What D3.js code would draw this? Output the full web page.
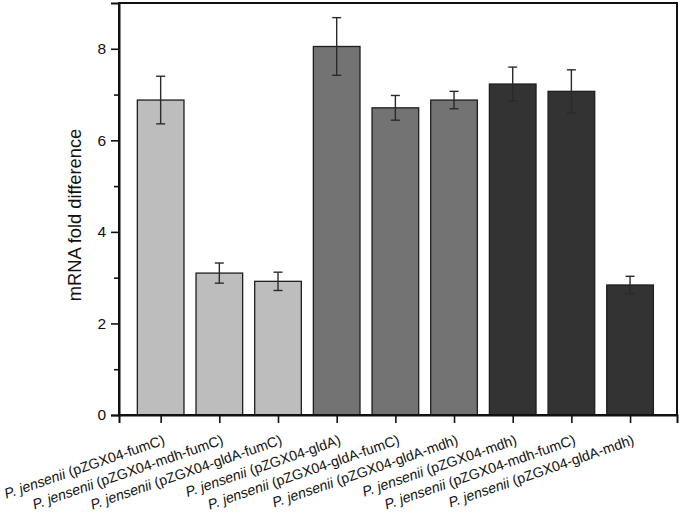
<!DOCTYPE html>
<html>
<head>
<meta charset="utf-8">
<script src="https://cdn.jsdelivr.net/npm/d3@7"></script>
<style>
  body { margin: 0; background: #fff; }
  text { font-family: "Liberation Sans", Arial, sans-serif; }
</style>
</head>
<body>
<div id="chart"></div>
<script>
// data
const strains = ["pZGX04-fumC", "pZGX04-mdh-fumC", "pZGX04-gldA-fumC",
  "pZGX04-gldA", "pZGX04-gldA-fumC", "pZGX04-gldA-mdh",
  "pZGX04-mdh", "pZGX04-mdh-fumC", "pZGX04-gldA-mdh"];
const foldValues = [6.88, 3.10, 2.92, 8.05, 6.71, 6.88, 7.23, 7.07, 2.84];
const foldErrors = [0.52, 0.22, 0.20, 0.63, 0.27, 0.19, 0.37, 0.47, 0.19];
const groupIds = [0, 0, 0, 1, 1, 1, 2, 2, 2];
const groupColors = ["#bdbdbd", "#737373", "#333333"];
const majorTicks = [0, 2, 4, 6, 8];
const minorTicks = [1, 3, 5, 7];

const width = 680;
const height = 515;
const margin = { top: 3, right: 3, bottom: 100, left: 119 };

const svg = d3.select("#chart")
  .append("svg")
  .attr("width", width)
  .attr("height", height);

// positions 1..9
const xScale = d3.scaleLinear()
  .domain([0.29, 9.8])
  .range([margin.left, width - margin.right]);

const yScale = d3.scaleLinear()
  .domain([0, 9])
  .range([height - margin.bottom, margin.top]);

const step = xScale(2) - xScale(1);
const barWidth = step * 0.795;

// bars
svg.append("g")
  .selectAll("rect")
  .data(foldValues)
  .join("rect")
  .attr("x", (d, i) => xScale(i + 1) - barWidth / 2)
  .attr("y", d => yScale(d))
  .attr("width", barWidth)
  .attr("height", d => yScale(0) - yScale(d))
  .attr("fill", (d, i) => groupColors[groupIds[i]])
  .attr("stroke", "#1e1e1e")
  .attr("stroke-width", 1.3);

// error bars
const err = svg.append("g")
  .attr("stroke", "#2a2a2a")
  .attr("stroke-width", 1.4);

foldValues.forEach((v, i) => {
  const cx = xScale(i + 1);
  const hi = yScale(v + foldErrors[i]);
  const lo = yScale(v - foldErrors[i]);
  err.append("line").attr("x1", cx).attr("x2", cx).attr("y1", hi).attr("y2", lo);
  err.append("line").attr("x1", cx - 4.5).attr("x2", cx + 4.5).attr("y1", hi).attr("y2", hi);
  err.append("line").attr("x1", cx - 4.5).attr("x2", cx + 4.5).attr("y1", lo).attr("y2", lo);
});

// frame
svg.append("rect")
  .attr("x", xScale.range()[0])
  .attr("y", yScale.range()[1])
  .attr("width", xScale.range()[1] - xScale.range()[0])
  .attr("height", yScale.range()[0] - yScale.range()[1])
  .attr("fill", "none")
  .attr("stroke", "#111")
  .attr("stroke-width", 2);

// y axis
const yAxis = d3.axisLeft(yScale)
  .tickValues(majorTicks)
  .tickSize(8)
  .tickPadding(5)
  .tickFormat(d3.format("d"));

const yAxisGroup = svg.append("g")
  .attr("transform", `translate(${margin.left}, 0)`)
  .call(yAxis);
yAxisGroup.select(".domain").attr("stroke-width", 2).attr("stroke", "#111");
yAxisGroup.selectAll(".tick line").attr("stroke-width", 1.6).attr("stroke", "#111");
yAxisGroup.selectAll(".tick text")
  .attr("font-size", 15.5)
  .attr("fill", "#111")
  .style("font-family", "'Liberation Sans', Arial, sans-serif");

const yMinor = d3.axisLeft(yScale)
  .tickValues(minorTicks)
  .tickSize(5)
  .tickFormat("");
const yMinorGroup = svg.append("g")
  .attr("transform", `translate(${margin.left}, 0)`)
  .call(yMinor);
yMinorGroup.select(".domain").remove();
yMinorGroup.selectAll(".tick line").attr("stroke-width", 1.6).attr("stroke", "#111");

svg.append("text")
  .attr("transform", `translate(${81}, ${215})rotate(-90)`)
  .attr("text-anchor", "middle")
  .attr("font-size", 18.3)
  .attr("fill", "#111")
  .text("mRNA fold difference");

// x axis
const xAxis = d3.axisBottom(xScale)
  .tickValues(d3.range(1, strains.length + 1))
  .tickSize(8)
  .tickFormat("");

const xAxisGroup = svg.append("g")
  .attr("transform", `translate(0, ${yScale(0)})`)
  .call(xAxis);
xAxisGroup.select(".domain").attr("stroke-width", 2).attr("stroke", "#111");
xAxisGroup.selectAll(".tick line").attr("stroke-width", 1.6).attr("stroke", "#111");

const labels = svg.append("g")
  .selectAll("text")
  .data(strains)
  .join("text")
  .attr("transform", (d, i) => `translate(${xScale(i + 1) + 5}, ${yScale(0) + 29})rotate(-19)`)
  .attr("text-anchor", "end")
  .attr("font-size", 14.2)
  .attr("fill", "#111");

labels.append("tspan")
  .attr("font-style", "italic")
  .text("P. jensenii");
labels.append("tspan")
  .text(d => ` (${d})`);
</script>
</body>
</html>
